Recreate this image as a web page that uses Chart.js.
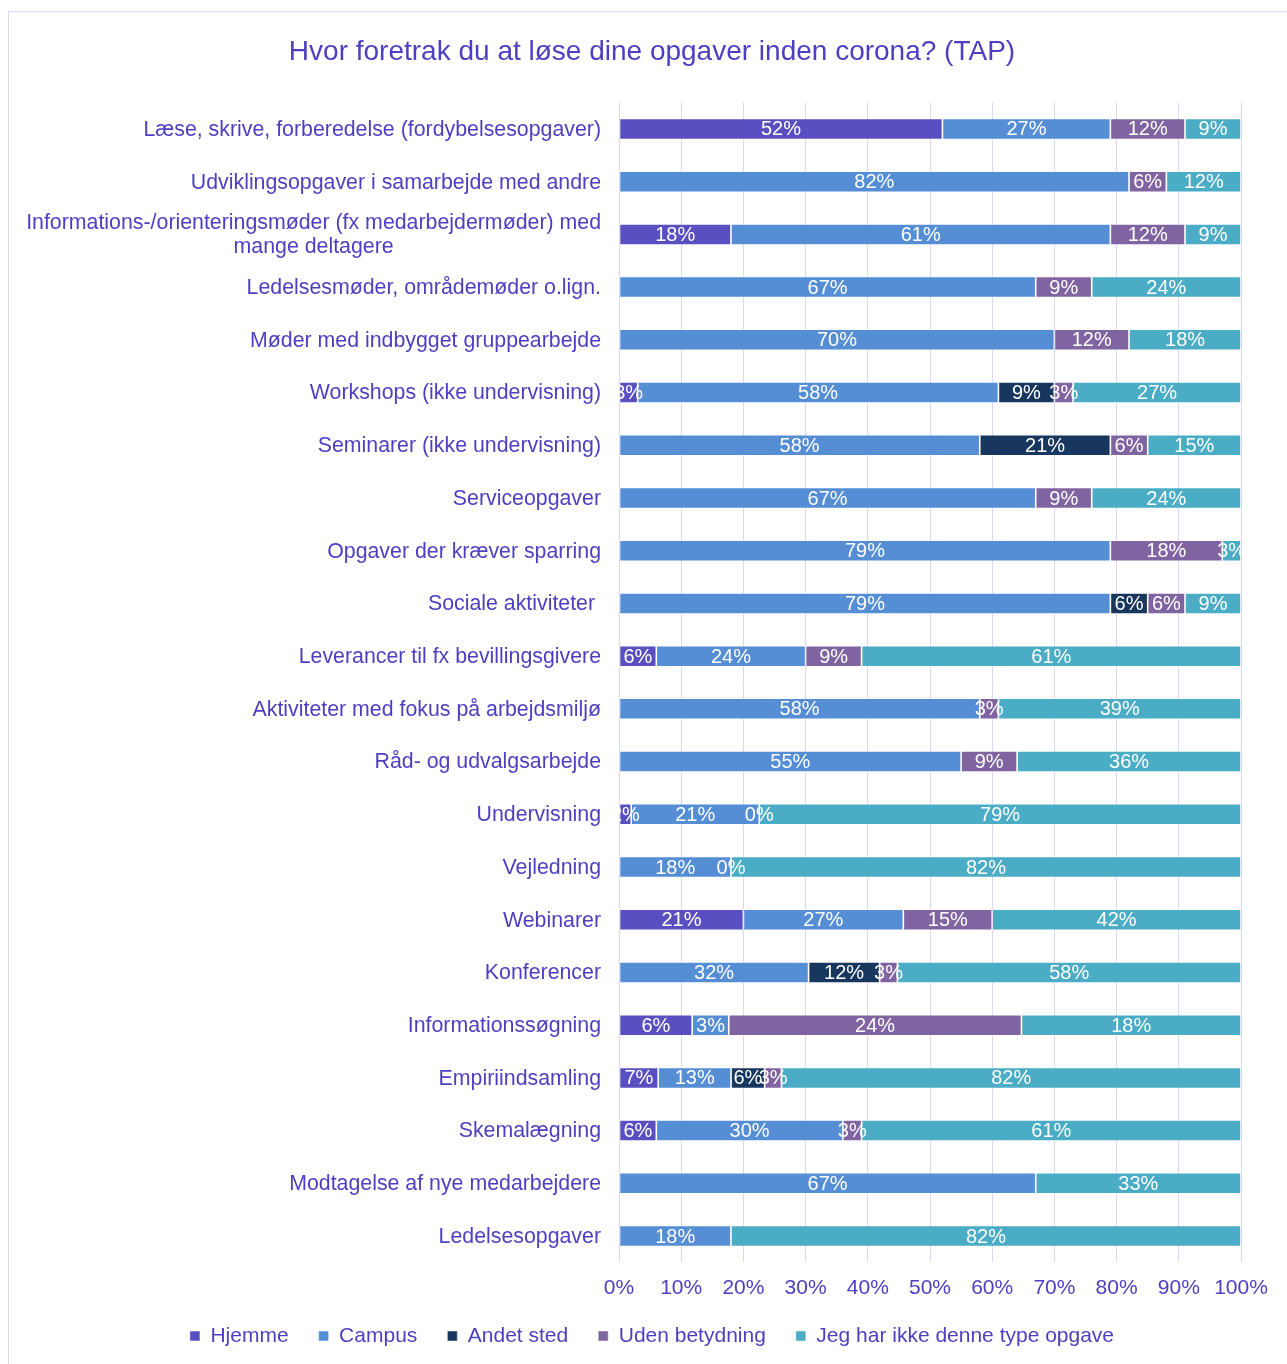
<!DOCTYPE html>
<html><head><meta charset="utf-8">
<script src="https://cdn.jsdelivr.net/npm/chart.js@4.4.1/dist/chart.umd.min.js"></script>
<style>
html,body{margin:0;padding:0;background:#fff;overflow:hidden;}
#wrap{position:relative;width:1287px;height:1364px;overflow:hidden;}
#frame{position:absolute;left:8px;top:11px;width:1320px;height:1420px;border:1px solid #D9D5F2;box-sizing:border-box;}
canvas{position:absolute;left:0;top:0;}
</style></head>
<body><div id="wrap"><div id="frame"></div><canvas id="c" width="1287" height="1364"></canvas></div>
<script>
const titleText = "Hvor foretrak du at løse dine opgaver inden corona? (TAP)";
const categories = [
  "Læse, skrive, forberedelse (fordybelsesopgaver)",
  "Udviklingsopgaver i samarbejde med andre",
  ["Informations-/orienteringsmøder (fx medarbejdermøder) med", "mange deltagere"],
  "Ledelsesmøder, områdemøder o.lign.",
  "Møder med indbygget gruppearbejde",
  "Workshops (ikke undervisning)",
  "Seminarer (ikke undervisning)",
  "Serviceopgaver",
  "Opgaver der kræver sparring",
  "Sociale aktiviteter ",
  "Leverancer til fx bevillingsgivere",
  "Aktiviteter med fokus på arbejdsmiljø",
  "Råd- og udvalgsarbejde",
  "Undervisning",
  "Vejledning",
  "Webinarer",
  "Konferencer",
  "Informationssøgning",
  "Empiriindsamling",
  "Skemalægning",
  "Modtagelse af nye medarbejdere",
  "Ledelsesopgaver"
];
const seriesNames = ["Hjemme", "Campus", "Andet sted", "Uden betydning", "Jeg har ikke denne type opgave"];
const hjemme        = [52, null, 18, null, null, 3, null, null, null, null, 6, null, null, 2, null, 21, null, 6, 7, 6, null, null];
const campus        = [27, 82, 61, 67, 70, 58, 58, 67, 79, 79, 24, 58, 55, 21, 18, 27, 32, 3, 13, 30, 67, 18];
const andetSted     = [null, null, null, null, null, 9, 21, null, null, 6, null, null, null, null, null, null, 12, null, 6, null, null, null];
const udenBetydning = [12, 6, 12, 9, 12, 3, 6, 9, 18, 6, 9, 3, 9, 0, 0, 15, 3, 24, 3, 3, null, null];
const ikkeOpgave    = [9, 12, 9, 24, 18, 27, 15, 24, 3, 9, 61, 39, 36, 79, 82, 42, 58, 18, 82, 61, 33, 82];
const xTicks = [0, 10, 20, 30, 40, 50, 60, 70, 80, 90, 100];

const colors = ["#5A4FC0", "#558ED5", "#17375E", "#8064A2", "#4BACC6"];
const textColor = "#4E3FC2";
const gridColor = "#DAD6F3";
const FONT = '"Liberation Sans", Arial, sans-serif';
const PAD_L = 63, PAD_R = 46;

const rawSeries = [hjemme, campus, andetSted, udenBetydning, ikkeOpgave];
const totals = categories.map((_, i) => rawSeries.reduce((s, a) => s + (a[i] || 0), 0));

const datasets = rawSeries.map((arr, k) => ({
  label: seriesNames[k],
  raw: arr,
  data: arr.map((v, i) => v === null ? null : v / totals[i] * 100),
  backgroundColor: colors[k],
  borderColor: "rgba(255,255,255,0.6)",
  borderWidth: 0.8,
  borderSkipped: false,
  barPercentage: 0.4,
  categoryPercentage: 1.0
}));

const valueLabels = {
  id: "valueLabels",
  afterDatasetsDraw(chart) {
    const ctx = chart.ctx, a = chart.chartArea;
    ctx.save();
    ctx.beginPath();
    ctx.rect(a.left, a.top, a.right - a.left, a.bottom - a.top);
    ctx.clip();
    ctx.font = "20px " + FONT;
    ctx.fillStyle = "#ffffff";
    ctx.textAlign = "center";
    ctx.textBaseline = "middle";
    chart.data.datasets.forEach((ds, di) => {
      const meta = chart.getDatasetMeta(di);
      meta.data.forEach((bar, i) => {
        const v = ds.raw[i];
        if (v === null || v === undefined) return;
        ctx.fillText(v + "%", (bar.x + bar.base) / 2, bar.y + 1);
      });
    });
    ctx.restore();
  }
};

const catLabels = {
  id: "catLabels",
  afterDraw(chart) {
    const ctx = chart.ctx, ys = chart.scales.y;
    ctx.save();
    ctx.font = "21.33px " + FONT;
    ctx.fillStyle = textColor;
    ctx.textBaseline = "middle";
    ctx.textAlign = "center";
    const rightEdge = chart.chartArea.left - 18;
    chart.data.labels.forEach((lab, i) => {
      const lines = Array.isArray(lab) ? lab : [lab];
      const maxW = Math.max(...lines.map(l => ctx.measureText(l).width));
      const cx = rightEdge - maxW / 2;
      const yc = ys.getPixelForTick(i);
      const lh = 24;
      lines.forEach((l, j) => {
        const y = yc + (j - (lines.length - 1) / 2) * lh + 1;
        ctx.fillText(l, cx, y);
      });
    });
    ctx.restore();
  }
};

new Chart(document.getElementById("c"), {
  type: "bar",
  data: { labels: categories, datasets },
  plugins: [valueLabels, catLabels],
  options: {
    indexAxis: "y",
    responsive: false,
    animation: false,
    layout: { padding: { left: PAD_L, right: PAD_R, top: 0, bottom: 7.5 } },
    scales: {
      x: {
        stacked: true, min: 0, max: 100,
        afterBuildTicks(scale) { scale.ticks = xTicks.map(v => ({ value: v })); },
        afterFit(scale) { scale.height = 33.1; },
        grid: { color: gridColor, lineWidth: 1, drawTicks: false },
        border: { display: false },
        ticks: { padding: 13.5, color: textColor, font: { family: FONT, size: 21 }, callback: v => v + "%" }
      },
      y: {
        stacked: true,
        grid: { display: false, drawTicks: false },
        border: { display: false },
        ticks: { display: false },
        afterFit(scale) { scale.width = 619 - PAD_L; }
      }
    },
    plugins: {
      title: {
        display: true, text: titleText, color: textColor,
        font: { family: FONT, size: 28, weight: "normal" },
        padding: { top: 35, bottom: 34 }
      },
      legend: {
        position: "bottom",
        labels: { boxWidth: 10, boxHeight: 10, padding: 30, color: textColor, font: { family: FONT, size: 21 } }
      },
      tooltip: { enabled: false }
    }
  }
});
</script>
</body></html>
